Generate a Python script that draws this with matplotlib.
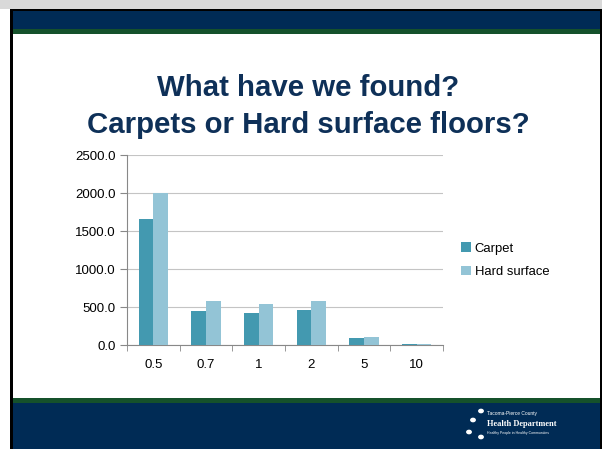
import numpy as np
import matplotlib.pyplot as plt
from matplotlib.patches import Rectangle

categories = ["0.5", "0.7", "1", "2", "5", "10"]
carpet = [1655, 450, 425, 463, 92, 17]
hard_surface = [2000, 585, 533, 577, 109, 14]
y_ticks = [0, 500, 1000, 1500, 2000, 2500]

navy = "#002B55"
green = "#15512B"
title_color = "#0E3058"
carpet_color = "#4399B0"
hard_color = "#93C4D6"

plt.rcParams["font.family"] = ["Liberation Sans", "DejaVu Sans"]

fig = plt.figure(figsize=(6.02, 4.49), dpi=100)
W, H = 602, 449

def px_rect(x0, y0, x1, y1, color):
    # rectangle given in pixel coords (top-left origin)
    fig.patches.append(Rectangle((x0 / W, 1 - y1 / H), (x1 - x0) / W, (y1 - y0) / H,
                                 transform=fig.transFigure, facecolor=color,
                                 edgecolor="none", zorder=-5))

# slide frame and bands
px_rect(0, 0, W, 9, "#D9D9D9")
px_rect(10, 9, W, H, "black")
px_rect(13, 11, W - 2, H, "white")
px_rect(13, 11, W - 2, 29, navy)
px_rect(13, 29, W - 2, 34, green)
px_rect(13, 398, W - 2, 403, green)
px_rect(13, 403, W - 2, H, navy)

fig.text(308 / W, 1 - 88 / H, "What have we found?", ha="center", va="center",
         fontsize=21.2, fontweight="bold", color=title_color)
fig.text(308 / W, 1 - 125 / H, "Carpets or Hard surface floors?", ha="center", va="center",
         fontsize=21.2, fontweight="bold", color=title_color)

ax = fig.add_axes([127 / W, 1 - 345 / H, (443 - 127) / W, (345 - 155) / H])
ax.set_zorder(5)
ax.patch.set_alpha(0)
x = np.arange(len(categories))
w = 0.28
ax.bar(x - w / 2, carpet, w, color=carpet_color, label="Carpet", zorder=3)
ax.bar(x + w / 2, hard_surface, w, color=hard_color, label="Hard surface", zorder=3)

ax.set_xlim(-0.5, len(categories) - 0.5)
ax.set_ylim(0, 2500)
ax.set_yticks(y_ticks)
ax.set_yticklabels([f"{v:.1f}" for v in y_ticks], fontsize=9.5)
ax.set_xticks(x)
ax.set_xticklabels(categories, fontsize=9.5)
ax.set_xticks(np.arange(len(categories) + 1) - 0.5, minor=True)
ax.tick_params(axis="x", which="major", length=0, pad=10)
ax.tick_params(axis="x", which="minor", length=4, color="#888888")
ax.tick_params(axis="y", length=5, color="#888888", pad=3)
ax.grid(axis="y", color="#C4C4C4", linewidth=0.8, zorder=0)
for s in ["top", "right"]:
    ax.spines[s].set_visible(False)
for s in ["left", "bottom"]:
    ax.spines[s].set_color("#888888")

ax.legend(loc="center left", bbox_to_anchor=(1.02, 0.447), frameon=False, fontsize=9.4,
          handlelength=0.75, handleheight=0.75, handletextpad=0.3, labelspacing=0.85)

# logo area
fig.text(487 / W, 1 - 414 / H, "Tacoma-Pierce County", fontsize=3.5, color="white", ha="left", va="center")
fig.text(487 / W, 1 - 424 / H, "Health Department", fontsize=6, color="white", ha="left",
         va="center", fontweight="bold", family="Liberation Serif")
fig.text(487 / W, 1 - 433 / H, "Healthy People in Healthy Communities", fontsize=2.5, color="white",
         ha="left", va="center")
for (cx, cy) in [(481, 411), (469, 432), (481, 437), (473, 420)]:
    fig.patches.append(plt.Circle((cx / W, 1 - cy / H), 2.2 / W, transform=fig.transFigure,
                                  color="white"))

fig.savefig("out.png", dpi=100)
